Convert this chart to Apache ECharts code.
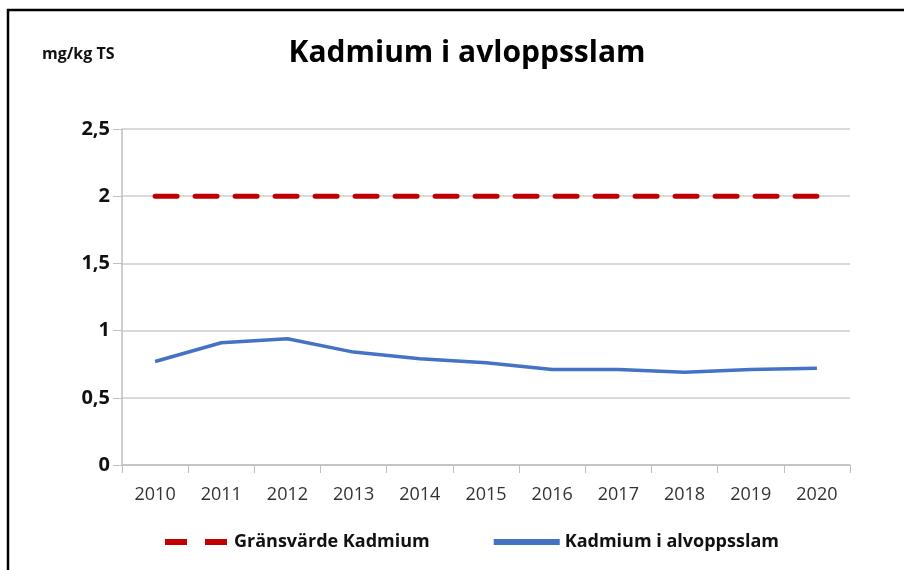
<!DOCTYPE html>
<html>
<head>
<meta charset="utf-8">
<script src="https://cdn.jsdelivr.net/npm/echarts@6/dist/echarts.min.js"></script>
<style>
  html, body { margin: 0; padding: 0; background: #fff; }
  #chart { width: 904px; height: 570px; }
</style>
</head>
<body>
<div id="chart"></div>
<script>
// years on the x axis
var years = ['2010', '2011', '2012', '2013', '2014', '2015', '2016', '2017', '2018', '2019', '2020'];
// limit value (mg/kg TS)
var gransvarde = [2, 2, 2, 2, 2, 2, 2, 2, 2, 2, 2];
// measured cadmium in sludge (mg/kg TS)
var kadmium = [0.77, 0.91, 0.94, 0.84, 0.79, 0.76, 0.71, 0.71, 0.69, 0.71, 0.72];

var font = 'Open Sans';

var chart = echarts.init(document.getElementById('chart'));

var option = {
    animation: false,
    backgroundColor: '#fff',
    graphic: [{
        type: 'rect',
        shape: { x: 8, y: 10, width: 1000, height: 1000 },
        style: { fill: 'none', stroke: '#000', lineWidth: 2.5 }
    }, {
        type: 'text',
        left: 42, top: 46,
        style: { text: 'mg/kg TS', font: 'bold 16px "Open Sans"', fill: '#111' }
    }],
    title: {
        text: 'Kadmium i avloppsslam',
        left: 462, top: 33,
        textAlign: 'center',
        textStyle: { fontFamily: font, fontSize: 30, fontWeight: 'bold', color: '#000' }
    },
    legend: {
        bottom: 14,
        left: 160,
        itemGap: 64,
        itemWidth: 66,
        itemHeight: 6,
        textStyle: { fontFamily: font, fontSize: 18, fontWeight: 'bold', color: '#111' },
        data: [
            { name: 'Gränsvärde Kadmium', icon: 'path://M0,0 H22 V6 H0 Z M40,0 H62 V6 H40 Z' },
            { name: 'Kadmium i alvoppsslam', icon: 'rect' }
        ]
    },
    grid: { left: 122, right: 54, top: 129, bottom: 105 },
    xAxis: {
        type: 'category',
        data: years,
        boundaryGap: true,
        axisLine: { lineStyle: { color: '#bfbfbf', width: 1.5 } },
        axisTick: { show: true, length: 8, lineStyle: { color: '#bfbfbf' } },
        axisLabel: { fontFamily: font, fontSize: 18, color: '#333', margin: 21 }
    },
    yAxis: {
        type: 'value',
        min: 0, max: 2.5, interval: 0.5,
        axisLine: { show: true, lineStyle: { color: '#bfbfbf', width: 1.5 } },
        axisTick: { show: true, length: 9, lineStyle: { color: '#bfbfbf' } },
        splitLine: { lineStyle: { color: '#d9d9d9', width: 2 } },
        axisLabel: {
            fontFamily: font, fontSize: 20, fontWeight: 'bold', color: '#111', margin: 12,
            formatter: function (v) { return String(v).replace('.', ','); }
        }
    },
    series: [{
        name: 'Gränsvärde Kadmium',
        type: 'line',
        data: gransvarde,
        symbol: 'none',
        color: '#c00000',
        lineStyle: { color: '#c00000', width: 5, type: [22, 18], cap: 'round' }
    }, {
        name: 'Kadmium i alvoppsslam',
        type: 'line',
        data: kadmium,
        symbol: 'none',
        color: '#4472c4',
        lineStyle: { color: '#4472c4', width: 3.5 }
    }]
};

chart.setOption(option);
</script>
</body>
</html>
